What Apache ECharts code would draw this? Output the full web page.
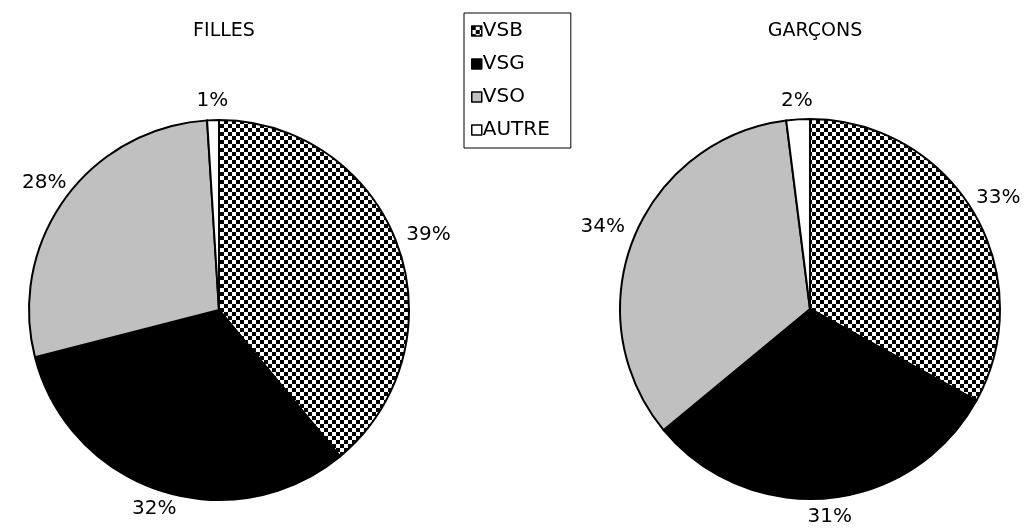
<!DOCTYPE html>
<html>
<head>
<meta charset="utf-8">
<script src="https://cdn.jsdelivr.net/npm/echarts@6/dist/echarts.min.js"></script>
<style>
  html, body { margin: 0; padding: 0; background: #fff; }
  #chart { width: 1028px; height: 529px; }
</style>
</head>
<body>
<div id="chart"></div>
<script>
// Categories and percentage shares per group
const categories = ['VSB', 'VSG', 'VSO', 'AUTRE'];
const groupTitles = ['FILLES', 'GARÇONS'];
const filles = [39, 32, 28, 1];
const garcons = [33, 31, 34, 2];

// 4px black/white checkerboard used for the VSB slices
function checker(cell) {
  const c = document.createElement('canvas');
  c.width = cell * 2; c.height = cell * 2;
  const g = c.getContext('2d');
  g.fillStyle = '#fff'; g.fillRect(0, 0, cell * 2, cell * 2);
  g.fillStyle = '#000';
  g.fillRect(0, 0, cell, cell);
  g.fillRect(cell, cell, cell, cell);
  return c;
}
const fills = [
  { image: checker(4), repeat: 'repeat' },
  '#000000',
  '#c0c0c0',
  '#ffffff'
];

const FONT = 'DejaVu Sans';
const centers = [[219, 310], [810, 309]];
const R = 190;
const LABEL_GAP = 9;

// Centre each percentage label on the slice's radial line, keeping its
// box a fixed gap away from the rim (the guide line only gives the direction).
function radialLabel(params) {
  const pts = params.labelLinePoints;
  if (!pts) return {};
  const [p0, p1] = pts;
  let ux = p1[0] - p0[0], uy = p1[1] - p0[1];
  const len = Math.hypot(ux, uy) || 1;
  ux /= len; uy /= len;
  const hw = params.labelRect.width / 2, hh = params.labelRect.height / 2;
  const reach = Math.min(
    Math.abs(ux) > 1e-6 ? hw / Math.abs(ux) : Infinity,
    Math.abs(uy) > 1e-6 ? hh / Math.abs(uy) : Infinity
  );
  const d = LABEL_GAP + reach;
  return {
    x: p0[0] + ux * d,
    y: p0[1] + uy * d,
    align: 'center',
    verticalAlign: 'middle'
  };
}

function pieSeries(values, center) {
  return {
    type: 'pie',
    center, radius: R,
    startAngle: 90, clockwise: true,
    silent: true,
    avoidLabelOverlap: false,
    itemStyle: { borderColor: '#000', borderWidth: 2 },
    label: {
      show: true, position: 'outside',
      formatter: '{c}%',
      color: '#000', fontFamily: FONT, fontSize: 20
    },
    labelLine: { show: true, length: 12, length2: 0, lineStyle: { opacity: 0 } },
    labelLayout: radialLabel,
    emphasis: { disabled: true },
    data: categories.map((name, i) => ({
      name, value: values[i],
      itemStyle: { color: fills[i] }
    }))
  };
}

const chart = echarts.init(document.getElementById('chart'), null, { renderer: 'canvas' });
chart.setOption({
  animation: false,
  backgroundColor: '#fff',
  title: groupTitles.map((t, i) => ({
    text: t,
    left: centers[i][0], top: 17,
    textAlign: 'center',
    textStyle: { fontFamily: FONT, fontSize: 19, fontWeight: 'normal', color: '#000' }
  })),
  legend: {
    data: categories,
    orient: 'vertical',
    left: 464, top: 13,
    padding: [8, 21, 8, 7],
    borderColor: '#000', borderWidth: 1,
    itemWidth: 10, itemHeight: 10,
    itemGap: 13,
    icon: 'rect',
    selectedMode: false,
    itemStyle: { borderColor: '#000', borderWidth: 1.5 },
    textStyle: { fontFamily: FONT, fontSize: 20, color: '#000', padding: [0, 0, 0, -4] }
  },
  series: [
    pieSeries(filles, centers[0]),
    pieSeries(garcons, centers[1])
  ]
});
</script>
</body>
</html>
